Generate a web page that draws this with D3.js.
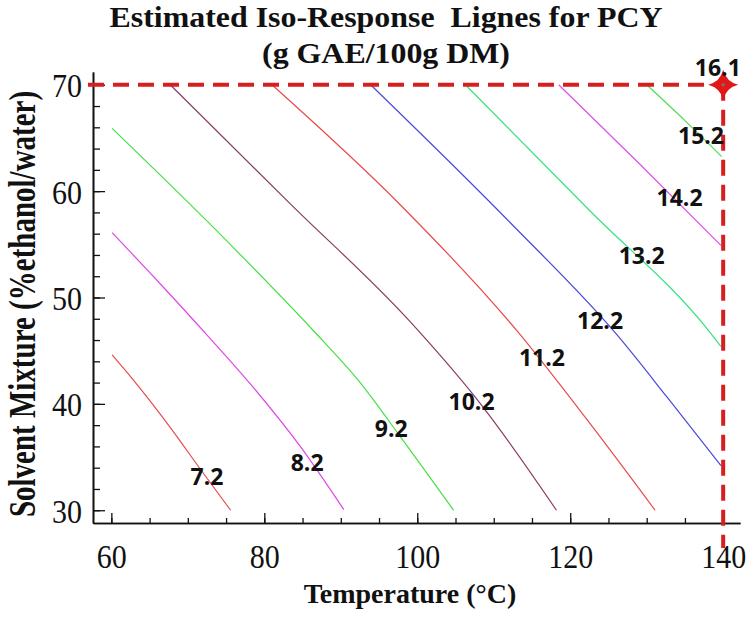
<!DOCTYPE html>
<html>
<head>
<meta charset="utf-8">
<script src="https://cdn.jsdelivr.net/npm/d3@7"></script>
<style>
  html, body { margin: 0; padding: 0; background: #fff; }
  svg { display: block; }
</style>
</head>
<body>
<svg id="chart" width="751" height="618"></svg>
<script>
// ---------------- DATA ----------------
const titleLines = ["Estimated Iso-Response  Lignes for PCY", "(g GAE/100g DM)"];
const xTitle = "Temperature (°C)";
const yTitle = "Solvent Mixture (%ethanol/water)";

const xTicks = [60, 80, 100, 120, 140];
const yTicks = [30, 40, 50, 60, 70];
const xMinorTicks = d3.range(60, 141, 5);
const yMinorTicks = d3.range(30, 71, 2);

const contourLevels = [7.2, 8.2, 9.2, 10.2, 11.2, 12.2, 13.2, 14.2, 15.2];

// iso-response lines: [temperature, solvent %]
const line72  = [[60.1,44.6],[62.7,42.4],[68.1,37.4],[71.6,33.9],[75.6,30.0]];
const line82  = [[60.1,56.1],[66.5,51.2],[72.6,46.4],[78.5,41.6],[84.7,36.0],[90.4,30.05]];
const line92  = [[60.1,65.9],[73.6,56.4],[86.4,46.9],[92.3,42.2],[97.8,36.9],[104.75,30.0]];
const line102 = [[67.7,70.0],[83.4,58.8],[99.1,47.7],[108.6,39.7],[118.2,30.0]];
const line112 = [[81.0,70.0],[97.8,58.7],[113.0,46.9],[122.0,38.7],[131.1,30.0]];
const line122 = [[93.9,70.0],[112.2,57.0],[126.1,46.5],[132.7,40.6],[139.7,34.2]];
const line132 = [[106.3,70.0],[122.5,58.2],[138.3,46.7],[139.7,45.4]];
const line142 = [[118.5,70.0],[129.15,62.5],[139.7,54.9]];
const line152 = [[130.0,70.0],[134.9,66.7],[139.8,63.25]];
const contourLines = [line72, line82, line92, line102, line112, line122, line132, line142, line152];

// label anchor (temperature, solvent) for each level
const labelT = [72.5, 85.6, 96.6, 107.1, 116.3, 123.9, 129.35, 134.3, 137.1];
const labelS = [33.15, 34.5, 37.7, 40.2, 44.3, 47.8, 53.9, 59.4, 65.25];

// optimum point
const optimumT = 140, optimumS = 70, optimumValue = 16.1;
const optimumLabelT = 139.3, optimumLabelS = 71.6;

// ---------------- STYLE ----------------
const contourColors = ["#e84c4c", "#e046e6", "#44e044", "#8a3a66", "#e84a4a", "#4a4ad8", "#3ae082", "#e04ee6", "#52dc52"];
const dashRed = "#d61f1f";

// ---------------- DRAW ----------------
const svg = d3.select("#chart");
const x = d3.scaleLinear().domain([57.6, 142.2]).range([93, 740]);
const y = d3.scaleLinear().domain([28.8, 71.2]).range([523, 72]);

// title
titleLines.forEach((t, i) => {
  svg.append("text")
    .attr("transform", `translate(386,${i === 0 ? 27 : 63}) scale(1.1,1)`)
    .attr("text-anchor", "middle")
    .style("font-family", "'Liberation Serif','Times New Roman',serif")
    .style("font-weight", "bold")
    .style("font-size", "29px")
    .style("white-space", "pre")
    .attr("fill", "#111")
    .text(t);
});

// contour lines
const lineGen = d3.line().x(d => x(d[0])).y(d => y(d[1])).curve(d3.curveMonotoneX);
svg.append("g").selectAll("path")
  .data(contourLines)
  .join("path")
  .attr("d", lineGen)
  .attr("fill", "none")
  .attr("stroke", (d, i) => contourColors[i])
  .attr("stroke-width", 1.2);

// axes
const axisFont = "'Liberation Serif','Times New Roman',serif";
const xAxisMinor = d3.axisBottom(x).tickValues(xMinorTicks).tickSizeInner(-5).tickSizeOuter(0).tickFormat("");
const xAxisMajor = d3.axisBottom(x).tickValues(xTicks).tickSizeInner(-10).tickSizeOuter(0).tickFormat(d3.format("d"));
svg.append("g").attr("transform", `translate(0,${y(28.8)})`).call(xAxisMinor);
const gx = svg.append("g").attr("transform", `translate(0,${y(28.8)})`).call(xAxisMajor);
gx.selectAll("text")
  .attr("y", null).attr("dy", null)
  .attr("transform", "translate(0,45) scale(1,1.13)")
  .style("font-family", axisFont).style("font-size", "30px").attr("fill", "#111");

const yAxisMinor = d3.axisLeft(y).tickValues(yMinorTicks).tickSizeInner(-7).tickSizeOuter(0).tickFormat("");
const yAxisMajor = d3.axisLeft(y).tickValues(yTicks).tickSizeInner(-12).tickSizeOuter(0).tickFormat(d3.format("d"));
svg.append("g").attr("transform", `translate(${x(57.6)},0)`).call(yAxisMinor);
const gy = svg.append("g").attr("transform", `translate(${x(57.6)},0)`).call(yAxisMajor);
gy.selectAll("text")
  .attr("x", null).attr("dy", null)
  .attr("text-anchor", "end")
  .attr("transform", "translate(-11,12) scale(1,1.13)")
  .style("font-family", axisFont).style("font-size", "30px").attr("fill", "#111");

svg.selectAll(".domain").attr("stroke", "#111").attr("stroke-width", 1.6);
svg.selectAll(".tick line").attr("stroke", "#111").attr("stroke-width", 1.3);

// axis titles
svg.append("text")
  .attr("x", 410).attr("y", 603)
  .attr("text-anchor", "middle")
  .style("font-family", axisFont).style("font-weight", "bold").style("font-size", "28px")
  .attr("fill", "#111")
  .text(xTitle);

svg.append("text")
  .attr("transform", "translate(35,304) rotate(-90) scale(1,1.3)")
  .attr("text-anchor", "middle")
  .style("font-family", axisFont).style("font-weight", "bold").style("font-size", "29px")
  .attr("fill", "#111")
  .text(yTitle);

// red dashed reference lines
svg.append("line")
  .attr("x1", x(57.6) - 5).attr("x2", x(optimumT))
  .attr("y1", y(optimumS)).attr("y2", y(optimumS))
  .attr("stroke", dashRed).attr("stroke-width", 4).attr("stroke-dasharray", "16,9");
svg.append("line")
  .attr("x1", x(optimumT)).attr("x2", x(optimumT))
  .attr("y1", y(optimumS)).attr("y2", y(28.8) + 25)
  .attr("stroke", dashRed).attr("stroke-width", 4).attr("stroke-dasharray", "16,9");

// contour labels
const labelFont = "'Open Sans',sans-serif";
svg.append("g").selectAll("text")
  .data(contourLevels)
  .join("text")
  .attr("x", (d, i) => x(labelT[i]))
  .attr("y", (d, i) => y(labelS[i]))
  .attr("dy", "0.36em")
  .attr("text-anchor", "middle")
  .style("font-family", labelFont).style("font-weight", "bold").style("font-size", "23px")
  .attr("fill", "#111")
  .text(d => d3.format(".1f")(d));

// optimum star
const star = "M0,-15 Q3,-3 15,0 Q3,3 0,15 Q-3,3 -15,0 Q-3,-3 0,-15 Z";
svg.append("path")
  .attr("d", star)
  .attr("transform", `translate(${x(optimumT)},${y(optimumS)})`)
  .attr("fill", "#e01818");
svg.append("circle")
  .attr("cx", x(optimumT)).attr("cy", y(optimumS)).attr("r", 1.8)
  .attr("fill", "#8a6a5a");

svg.append("text")
  .attr("x", x(optimumLabelT)).attr("y", y(optimumLabelS))
  .attr("dy", "0.36em")
  .attr("text-anchor", "middle")
  .style("font-family", labelFont).style("font-weight", "bold").style("font-size", "23px")
  .attr("fill", "#111")
  .text(d3.format(".1f")(optimumValue));
</script>
</body>
</html>
